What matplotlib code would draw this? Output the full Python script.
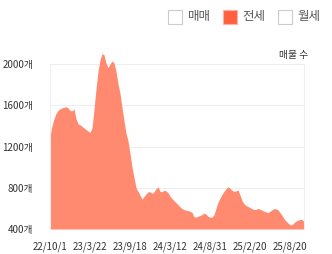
import matplotlib
matplotlib.use("Agg")
import matplotlib.pyplot as plt
from matplotlib.patches import Rectangle
import numpy as np

plt.rcParams['font.family'] = ['Noto Sans CJK KR', 'DejaVu Sans']

# Listing counts (전세), sampled evenly
values = [1300, 1400, 1470, 1520, 1550, 1565, 1575, 1580, 1586, 1575,
          1550, 1545, 1565, 1470, 1420, 1410, 1395, 1380, 1365, 1350,
          1337, 1380, 1560, 1760, 1930, 2040, 2100, 2090, 2010, 1965,
          2000, 2030, 2010, 1930, 1810, 1716, 1580, 1450, 1330, 1255,
          1134, 1000, 900, 800, 765, 730, 690, 715, 740, 760,
          762, 746, 760, 790, 810, 765, 762, 775, 770, 752,
          720, 695, 675, 655, 636, 615, 598, 588, 582, 578,
          572, 560, 520, 515, 525, 530, 540, 555, 545, 522,
          515, 515, 540, 600, 660, 700, 735, 765, 790, 810,
          795, 775, 765, 770, 778, 730, 675, 645, 628, 618,
          608, 598, 588, 590, 600, 592, 582, 572, 565, 558,
          572, 586, 598, 595, 585, 560, 532, 500, 478, 458,
          442, 440, 462, 476, 486, 492, 494, 470]
tick_labels = ["22/10/1", "23/3/22", "23/9/18", "24/3/12", "24/8/31", "25/2/20", "25/8/20"]
tick_step = 20
y_ticks = [400, 800, 1200, 1600, 2000]
legend_labels = ["매매", "전세", "월세"]

W, H = 332, 254
fig = plt.figure(figsize=(W / 100, H / 100), dpi=100)
ax = fig.add_axes([50 / W, 25 / H, 254 / W, 165 / H])

x = np.arange(len(values))
ax.fill_between(x, 400, values, color="#ff8a70", linewidth=0, clip_on=False, zorder=2)

ax.set_xlim(0, len(values) - 1)
ax.set_ylim(400, 2000)
ax.set_yticks(y_ticks)
ax.set_yticklabels([f"{v}개" for v in y_ticks])
ax.set_xticks(np.arange(len(tick_labels)) * tick_step)
ax.set_xticklabels(tick_labels)
ax.tick_params(axis='both', length=0, labelsize=7, colors="#333333")
ax.tick_params(axis='y', pad=12)
ax.tick_params(axis='x', pad=9)
ax.grid(axis='y', color="#eeeeee", linewidth=0.8, zorder=0)
ax.set_axisbelow(True)
for side in ["top", "bottom"]:
    ax.spines[side].set_visible(False)
for side in ["left", "right"]:
    ax.spines[side].set_color("#eeeeee")
    ax.spines[side].set_linewidth(0.8)

# unit label
fig.text(308 / W, 1 - 55 / H, "매물 수", ha="right", va="center", fontsize=7, color="#333333")

# legend
sq = 14
items = [(168, "white", "#cccccc"), (223, "#ff6040", "#ffb0a0"), (278, "white", "#cccccc")]
text_x = [188, 242, 297]
for (lx, fc, ec), tx, lab in zip(items, text_x, legend_labels):
    fig.patches.append(Rectangle((lx / W, 1 - 24 / H), sq / W, sq / H, transform=fig.transFigure,
                                 facecolor=fc, edgecolor=ec, linewidth=0.8))
    fig.text(tx / W, 1 - 16.5 / H, lab, ha="left", va="center", fontsize=9, color="#555555")

fig.savefig("out.png", dpi=100)
